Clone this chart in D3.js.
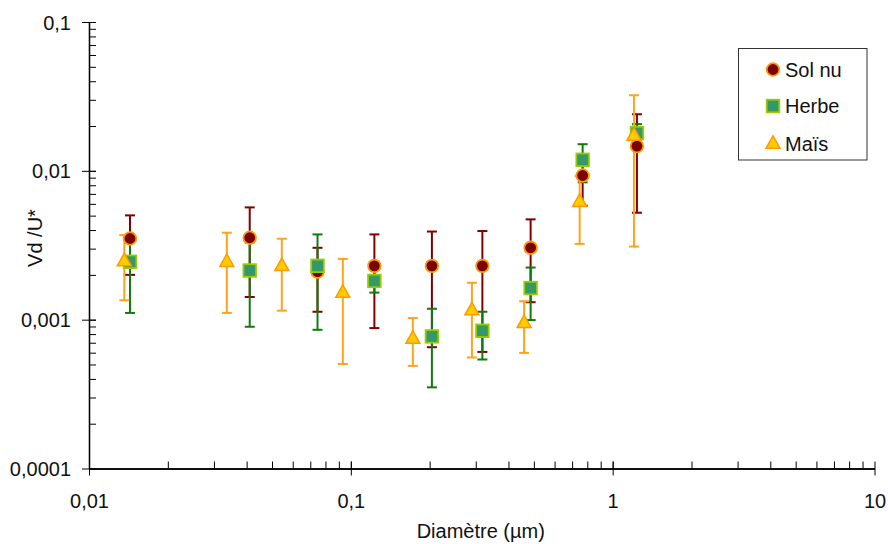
<!DOCTYPE html>
<html>
<head>
<meta charset="utf-8">
<script src="https://cdn.jsdelivr.net/npm/d3@7"></script>
<style>
  html, body { margin: 0; padding: 0; background: #fff; }
  svg { display: block; font-family: "Liberation Sans", Arial, sans-serif; }
</style>
</head>
<body>
<svg id="chart" width="888" height="544"></svg>
<script>
// ---- Data ----
const seriesNames = ["Sol nu", "Herbe", "Maïs"];

const solDiam = [0.01434, 0.0411, 0.0746, 0.123, 0.204, 0.318, 0.486, 0.768, 1.238];
const solVal  = [0.00351, 0.00355, 0.00210, 0.00230, 0.00230, 0.00230, 0.00304, 0.0093, 0.01465];
const solHigh = [0.00502, 0.00568, 0.00304, 0.00374, 0.00391, 0.00394, 0.00472, 0.0128, 0.0240];
const solLow  = [0.00200, 0.00142, 0.00113, 0.000878, 0.000653, 0.000607, 0.00131, 0.00583, 0.00523];

const herbeDiam = [0.01434, 0.0411, 0.0746, 0.123, 0.204, 0.318, 0.486, 0.768, 1.238];
const herbeVal  = [0.00245, 0.00214, 0.00230, 0.00182, 0.000772, 0.000842, 0.00163, 0.01186, 0.01793];
const herbeHigh = [0.0035, 0.0033, 0.00374, 0.0022, 0.001184, 0.00113, 0.00224, 0.0151, 0.0206];
const herbeLow  = [0.00111, 0.000896, 0.000855, 0.00152, 0.000351, 0.00054, 0.000994, 0.00837, 0.0155];

const maisDiam = [0.01364, 0.0336, 0.0545, 0.0932, 0.1725, 0.290, 0.459, 0.748, 1.206];
const maisVal  = [0.00248, 0.00245, 0.00230, 0.00152, 0.000748, 0.00116, 0.000953, 0.00621, 0.0173];
const maisHigh = [0.00370, 0.00384, 0.00350, 0.00256, 0.001025, 0.00177, 0.00133, 0.0092, 0.0322];
const maisLow  = [0.00135, 0.00111, 0.00115, 0.000504, 0.000489, 0.000557, 0.000598, 0.00323, 0.0031];

const xTickValues = [0.01, 0.1, 1, 10];
const xTickLabels = ["0,01", "0,1", "1", "10"];
const yTickValues = [0.0001, 0.001, 0.01, 0.1];
const yTickLabels = ["0,0001", "0,001", "0,01", "0,1"];

const xTitle = "Diamètre (µm)";
const yTitle = "Vd /U*";

// ---- Layout ----
const svg = d3.select("#chart");
const plotLeft = 89, plotRight = 874.5, plotTop = 22, plotBottom = 468.5;

const x = d3.scaleLog().domain([0.01, 10]).range([plotLeft, plotRight]);
const y = d3.scaleLog().domain([0.0001, 0.1]).range([plotBottom, plotTop]);

function minorTicks(domain) {
  const out = [];
  const lo = Math.round(Math.log10(domain[0])), hi = Math.round(Math.log10(domain[1]));
  for (let e = lo; e < hi; e++) for (let m = 1; m <= 10; m++) out.push(+(m * Math.pow(10, e)).toPrecision(6));
  return out;
}

const fontSize = 20;
const axisColor = "#000";

// Y axis: major ticks + labels (outside), all ticks inside
const gyMajor = svg.append("g").attr("transform", `translate(${plotLeft},0)`)
  .call(d3.axisLeft(y).tickValues(yTickValues).tickSizeInner(7).tickSizeOuter(0).tickPadding(11)
    .tickFormat((d, i) => yTickLabels[i]));
const gyMinor = svg.append("g").attr("transform", `translate(${plotLeft},0)`)
  .call(d3.axisRight(y).tickValues(minorTicks(y.domain())).tickSizeInner(7).tickSizeOuter(0).tickFormat(""));

// X axis
const gxMajor = svg.append("g").attr("transform", `translate(0,${plotBottom})`)
  .call(d3.axisBottom(x).tickValues(xTickValues).tickSizeInner(7).tickSizeOuter(0).tickPadding(18)
    .tickFormat((d, i) => xTickLabels[i]));
const gxMinor = svg.append("g").attr("transform", `translate(0,${plotBottom})`)
  .call(d3.axisTop(x).tickValues(minorTicks(x.domain())).tickSizeInner(7).tickSizeOuter(0).tickFormat(""));

[gyMajor, gyMinor, gxMajor, gxMinor].forEach(g => {
  g.selectAll("path.domain").attr("stroke", axisColor).attr("stroke-width", 1.3);
  g.selectAll(".tick line").attr("stroke", axisColor).attr("stroke-width", 1);
  g.selectAll("text").attr("font-size", fontSize).attr("font-family", "Liberation Sans, Arial, sans-serif").attr("fill", "#111");
});
gyMajor.selectAll(".tick text").attr("dy", "0.35em");

// Axis titles
svg.append("text").attr("x", (plotLeft + plotRight) / 2 - 1).attr("y", 538)
  .attr("text-anchor", "middle").attr("font-size", fontSize).attr("fill", "#111").text(xTitle);
svg.append("text").attr("transform", `translate(42,${238}) rotate(-90)`)
  .attr("text-anchor", "middle").attr("font-size", fontSize).attr("fill", "#111").text(yTitle);

// ---- Series ----
const series = [
  { name: seriesNames[0], diam: solDiam, val: solVal, hi: solHigh, lo: solLow,
    bar: "#800000", fill: "#7a0000", stroke: "#ff9900", shape: "circle" },
  { name: seriesNames[1], diam: herbeDiam, val: herbeVal, hi: herbeHigh, lo: herbeLow,
    bar: "#107a10", fill: "#339966", stroke: "#99cc00", shape: "square" },
  { name: seriesNames[2], diam: maisDiam, val: maisVal, hi: maisHigh, lo: maisLow,
    bar: "#ffa31a", fill: "#ffcc00", stroke: "#ff9900", shape: "triangle" }
];

const capHalf = 5;
const gErr = svg.append("g");
series.forEach(s => {
  const data = s.diam.map((d, i) => ({ d, v: s.val[i], hi: s.hi[i], lo: s.lo[i] }));
  const g = gErr.append("g").attr("stroke", s.bar).attr("stroke-width", 2).attr("fill", "none");
  g.selectAll("line.v").data(data).join("line").attr("class", "v")
    .attr("x1", p => x(p.d)).attr("x2", p => x(p.d)).attr("y1", p => y(p.hi)).attr("y2", p => y(p.lo));
  g.selectAll("line.t").data(data).join("line").attr("class", "t")
    .attr("x1", p => x(p.d) - capHalf).attr("x2", p => x(p.d) + capHalf).attr("y1", p => y(p.hi)).attr("y2", p => y(p.hi));
  g.selectAll("line.b").data(data).join("line").attr("class", "b")
    .attr("x1", p => x(p.d) - capHalf).attr("x2", p => x(p.d) + capHalf).attr("y1", p => y(p.lo)).attr("y2", p => y(p.lo));
});

function drawMarker(g, shape, cx, cy, fill, stroke) {
  if (shape === "circle") {
    g.append("circle").attr("cx", cx).attr("cy", cy).attr("r", 6.3)
      .attr("fill", fill).attr("stroke", stroke).attr("stroke-width", 1.8);
  } else if (shape === "square") {
    g.append("rect").attr("x", cx - 6.3).attr("y", cy - 6.3).attr("width", 12.6).attr("height", 12.6)
      .attr("fill", fill).attr("stroke", stroke).attr("stroke-width", 1.8);
  } else {
    const h = 12.5, w = 14;
    g.append("path").attr("d", `M${cx},${cy - h * 0.62} L${cx + w / 2},${cy + h * 0.38} L${cx - w / 2},${cy + h * 0.38} Z`)
      .attr("fill", fill).attr("stroke", stroke).attr("stroke-width", 1.5).attr("stroke-linejoin", "miter");
  }
}

const gMarks = svg.append("g");
series.forEach(s => {
  const g = gMarks.append("g");
  s.diam.forEach((d, i) => drawMarker(g, s.shape, x(d), y(s.val[i]), s.fill, s.stroke));
});

// ---- Legend ----
const lg = svg.append("g");
lg.append("rect").attr("x", 738.5).attr("y", 48.5).attr("width", 128.5).attr("height", 111.5)
  .attr("fill", "#fff").attr("stroke", "#333").attr("stroke-width", 1);
const legendY = [69.5, 106, 143.5];
series.forEach((s, i) => {
  drawMarker(lg, s.shape, 773, legendY[i], s.fill, s.stroke);
  lg.append("text").attr("x", 785).attr("y", legendY[i]).attr("dy", "0.36em")
    .attr("font-size", fontSize).attr("fill", "#111").text(s.name);
});
</script>
</body>
</html>
